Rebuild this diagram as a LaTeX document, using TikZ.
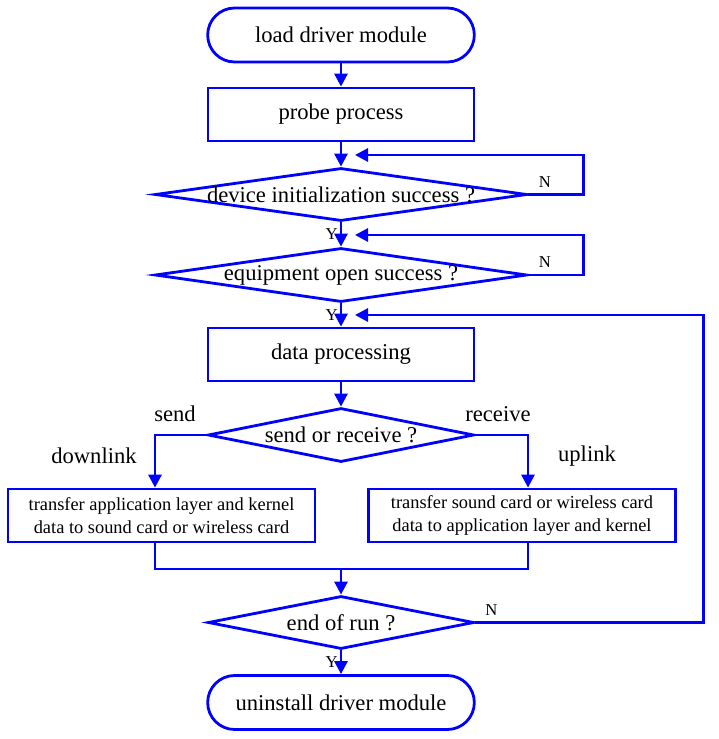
\documentclass[tikz,border=0pt]{standalone}
\usepackage{fontspec}
\setmainfont{Liberation Serif}
\usetikzlibrary{shapes.geometric,shapes.misc,arrows.meta}

\begin{document}
\begin{tikzpicture}[
    x=0.5pt, y=-0.5pt,
    flow/.style={draw=blue, line width=1.4pt},
    terminal/.style={flow, rounded rectangle, minimum width=140pt, minimum height=27pt,
      font=\fontsize{11.3}{13}\selectfont},
    process/.style={flow, rectangle, minimum width=133pt, minimum height=26.5pt,
      font=\fontsize{11.3}{13}\selectfont},
    decision/.style={flow, diamond, inner sep=0pt},
    datapath/.style={flow, rectangle, minimum width=153.5pt, minimum height=26.5pt,
      align=center, inner sep=1pt, font=\fontsize{9.2}{11.3}\selectfont},
    yn/.style={font=\fontsize{8.3}{10}\selectfont, inner sep=1pt},
    note/.style={font=\fontsize{11.3}{13}\selectfont, inner sep=0pt},
    link/.style={draw=blue, line width=1.4pt, -{Triangle[length=6.5pt,width=6.5pt]}},
    wire/.style={draw=blue, line width=1.4pt}
  ]
  \useasboundingbox (0,0) rectangle (718,739);

  % main column
  \node[terminal] (start) at (341,35) {load driver module};
  \node[process] (probe) at (341,114.5) {probe process};
  \node[decision, minimum width=186pt, minimum height=26.5pt,
    label={[font=\fontsize{11.3}{13}\selectfont]center:device initialization success ?}]
    (initok) at (341,194.5) {};
  \node[decision, minimum width=186pt, minimum height=27pt,
    label={[font=\fontsize{11.3}{13}\selectfont]center:equipment open success ?}]
    (openok) at (341,275) {};
  \node[process] (dataproc) at (341,354.5) {data processing};
  \node[decision, minimum width=133pt, minimum height=27pt,
    label={[font=\fontsize{11.3}{13}\selectfont]center:send or receive ?}]
    (sendrecv) at (341,435) {};

  % the two transfer directions
  \node[datapath] (downbox) at (161.5,515.5) {transfer application layer and kernel\\data to sound card or wireless card};
  \node[datapath] (upbox) at (522,515.5) {transfer sound card or wireless card\\data to application layer and kernel};

  \node[decision, minimum width=133pt, minimum height=26.5pt,
    label={[font=\fontsize{11.3}{13}\selectfont]center:end of run ?}]
    (endrun) at (341,622.5) {};
  \node[terminal] (stop) at (341,702.5) {uninstall driver module};

  % branch labels
  \node[note] (sendlbl) at (175,414) {send};
  \node[note] (recvlbl) at (498,414) {receive};
  \node[note] (downlbl) at (94,456) {downlink};
  \node[note] (uplbl) at (587,456) {uplink};

  % return points on the main column
  \coordinate (initback) at (355,155);
  \coordinate (openback) at (355,235);
  \coordinate (procback) at (355,315);
  \coordinate (merge) at (341,569);

  % connectors
  \draw[link] (start.south) -- (probe.north);
  \draw[link] (probe.south) -- (initok.north);
  \draw[link] (initok.south) -- node[yn, left] {Y} (openok.north);
  \draw[link] (openok.south) -- node[yn, left] {Y} (dataproc.north);
  \draw[link] (dataproc.south) -- (sendrecv.north);
  \draw[link] (initok.east) -- node[yn, above=2pt, pos=0.3] {N} ++(55,0) |- (initback);
  \draw[link] (openok.east) -- node[yn, above=2pt, pos=0.3] {N} ++(55,0) |- (openback);
  \draw[link] (sendrecv.west) -| ([xshift=-3.25pt]downbox.north);
  \draw[link] (sendrecv.east) -| ([xshift=3pt]upbox.north);
  \draw[wire] ([xshift=-3.25pt]downbox.south) |- (merge) -| ([xshift=3pt]upbox.south);
  \draw[link] (merge) -- (endrun.north);
  \draw[link] (endrun.east) -- node[yn, above=2pt, pos=0.07] {N} ++(228,0) |- (procback);
  \draw[link] (endrun.south) -- node[yn, left] {Y} (stop.north);

\end{tikzpicture}
\end{document}
